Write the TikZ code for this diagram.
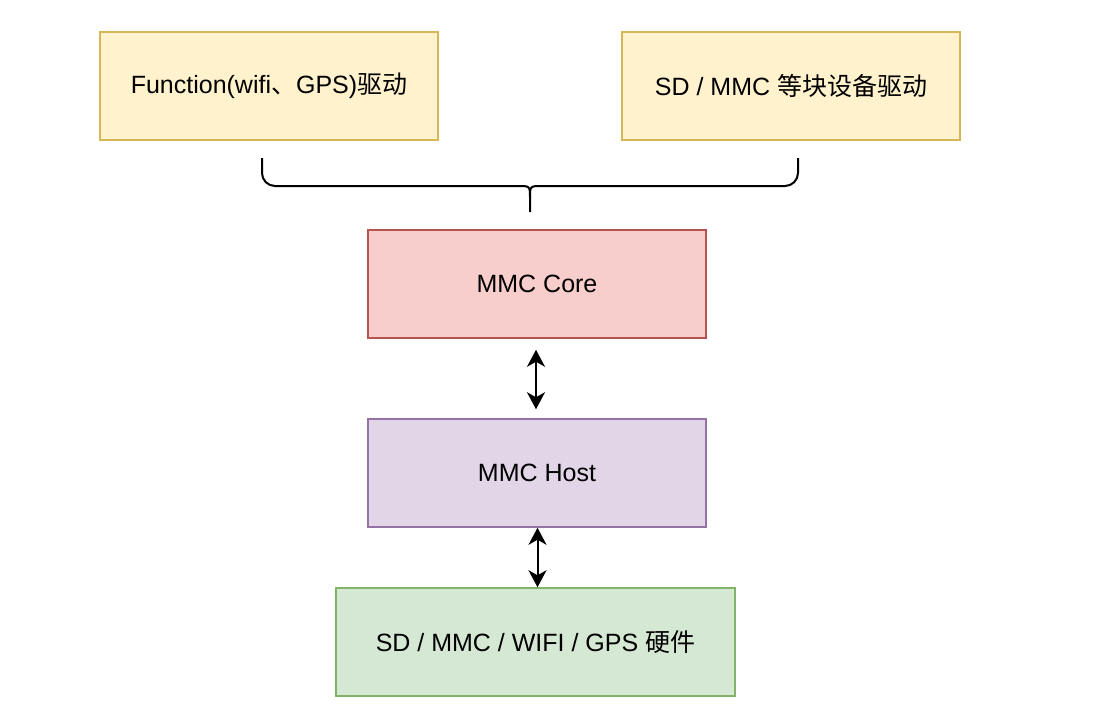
\documentclass[tikz,border=0pt]{standalone}
\usepackage{fontspec}
\setmainfont{Liberation Sans}
\newfontfamily\cjk{Noto Sans CJK SC}
\usetikzlibrary{arrows.meta}
\definecolor{yfill}{HTML}{FFF2CC}
\definecolor{ydraw}{HTML}{D6B656}
\definecolor{rfill}{HTML}{F8CECC}
\definecolor{rdraw}{HTML}{B85450}
\definecolor{pfill}{HTML}{E1D5E7}
\definecolor{pdraw}{HTML}{9673A6}
\definecolor{gfill}{HTML}{D5E8D4}
\definecolor{gdraw}{HTML}{82B366}
\begin{document}
\begin{tikzpicture}[x=1pt,y=-1pt,
  box/.style={draw, line width=1.5pt, minimum width=338pt, minimum height=108pt, inner sep=0pt, font=\fontsize{25}{30}\selectfont, text=black},
  arr/.style={line width=2pt, {Stealth[length=17pt,width=18pt,inset=5pt]}-{Stealth[length=17pt,width=18pt,inset=5pt]}},
  bracestyle/.style={line width=2pt}]
\useasboundingbox (0,0) rectangle (1095,724);
\node[box, fill=yfill, draw=ydraw] (func) at (269,86) {Function(wifi{\cjk 、}GPS){\cjk 驱动}};
\node[box, fill=yfill, draw=ydraw] (blk) at (791,86) {SD / MMC {\cjk 等块设备驱动}};
\node[box, fill=rfill, draw=rdraw] (core) at (537,284) {MMC Core};
\node[box, fill=pfill, draw=pdraw] (host) at (537,473) {MMC Host};
\node[box, fill=gfill, draw=gdraw, minimum width=399pt] (hw) at (535.5,642) {SD / MMC / WIFI / GPS {\cjk 硬件}};
% brace
\coordinate (bl) at (262,158);
\coordinate (br) at (798,158);
\coordinate (bt) at (530,212);
\draw[bracestyle] (bl) -- (262,173) arc[start angle=180, end angle=90, radius=13] -- (518,186) .. controls (530,186) .. (530,198) -- (bt);
\draw[bracestyle] (br) -- (798,173) arc[start angle=0, end angle=90, radius=13] -- (542,186) .. controls (530,186) .. (530,198);
% arrows
\draw[arr] ([xshift=-1pt,yshift=-11pt]core.south) -- ([xshift=-1pt,yshift=9pt]host.north);
\draw[arr] ([xshift=0.5pt]host.south) -- ([xshift=0.5pt]hw.north -| host.south);
\end{tikzpicture}
\end{document}
